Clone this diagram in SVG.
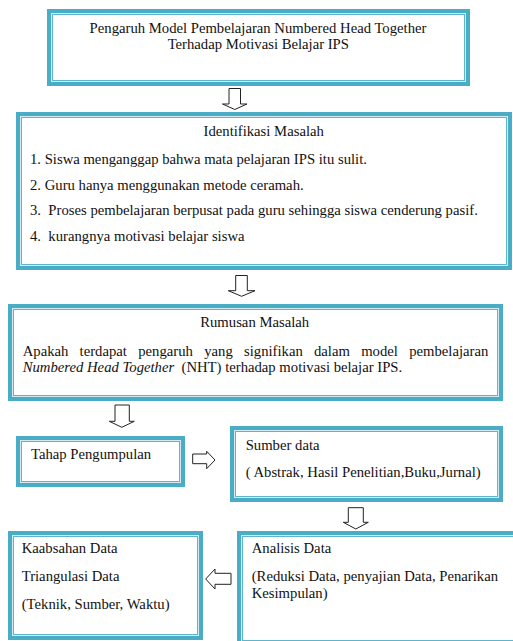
<svg xmlns="http://www.w3.org/2000/svg" width="513" height="641" viewBox="0 0 513 641">
<style>
.o{fill:#fff;stroke:#4bacc6;stroke-width:4}
.g{fill:none;stroke:#d2ebf2;stroke-width:1}
.i{fill:none;stroke:#5db6cc;stroke-width:1}
.t{font-family:"Liberation Serif","Times New Roman",serif;font-size:14.7px;fill:#111}
.c{text-anchor:middle}
.a{fill:#fff;stroke:#222;stroke-width:1;stroke-linejoin:miter}
</style>
<rect width="513" height="641" fill="#fff"/>
<g id="node-judul">
<rect class="o" x="49" y="11" width="419" height="73"/>
<rect class="g" x="51.5" y="13.5" width="414" height="68"/>
<rect class="i" x="52.5" y="14.5" width="412" height="66"/>
<text class="t c" x="258" y="33.3">Pengaruh Model Pembelajaran Numbered Head Together</text>
<text class="t c" x="258.3" y="49.3">Terhadap Motivasi Belajar IPS</text>
</g>
<g id="node-identifikasi">
<rect class="o" x="18" y="114" width="492" height="154"/>
<rect class="g" x="20.5" y="116.5" width="487" height="149"/>
<rect class="i" x="21.5" y="117.5" width="485" height="147"/>
<text class="t c" x="263.7" y="136">Identifikasi Masalah</text>
<text class="t" x="30" y="164">1. Siswa menganggap bahwa mata pelajaran IPS itu sulit.</text>
<text class="t" x="30" y="189.5">2. Guru hanya menggunakan metode ceramah.</text>
<text class="t" x="30" y="215" xml:space="preserve">3.  Proses pembelajaran berpusat pada guru sehingga siswa cenderung pasif.</text>
<text class="t" x="30" y="240.5" xml:space="preserve">4.  kurangnya motivasi belajar siswa</text>
</g>
<g id="node-rumusan">
<rect class="o" x="10" y="306" width="491" height="93"/>
<rect class="g" x="12.5" y="308.5" width="486" height="88"/>
<rect class="i" x="13.5" y="309.5" width="484" height="86"/>
<text class="t c" x="254.7" y="327.3">Rumusan Masalah</text>
<text class="t" y="355.7"><tspan x="22.7">Apakah</tspan><tspan x="79.6">terdapat</tspan><tspan x="138.2">pengaruh</tspan><tspan x="204.2">yang</tspan><tspan x="244">signifikan</tspan><tspan x="314">dalam</tspan><tspan x="361.2">model</tspan><tspan x="409.2">pembelajaran</tspan></text>
<text class="t" y="371.7"><tspan x="22.7" font-style="italic">Numbered Head Together</tspan><tspan x="181.5">(NHT) terhadap motivasi belajar IPS.</tspan></text>
</g>
<g id="node-tahap">
<rect class="o" x="18" y="438" width="165" height="47"/>
<rect class="g" x="20.5" y="440.5" width="160" height="42"/>
<rect class="i" x="21.5" y="441.5" width="158" height="40"/>
<text class="t" x="31" y="459.3">Tahap Pengumpulan</text>
</g>
<g id="node-sumber">
<rect class="o" x="232" y="428" width="269" height="72"/>
<rect class="g" x="234.5" y="430.5" width="264" height="67"/>
<rect class="i" x="235.5" y="431.5" width="262" height="65"/>
<text class="t" x="245.7" y="450">Sumber data</text>
<text class="t" x="245.7" y="476.7">( Abstrak, Hasil Penelitian,Buku,Jurnal)</text>
</g>
<g id="node-keabsahan">
<rect class="o" x="10" y="533" width="191" height="105"/>
<rect class="g" x="12.5" y="535.5" width="186" height="100"/>
<rect class="i" x="13.5" y="536.5" width="184" height="98"/>
<text class="t" x="21.7" y="553.3">Kaabsahan Data</text>
<text class="t" x="21.7" y="581">Triangulasi Data</text>
<text class="t" x="21.7" y="609">(Teknik, Sumber, Waktu)</text>
</g>
<g id="node-analisis">
<rect class="o" x="239" y="533" width="279" height="111"/>
<rect class="g" x="241.5" y="535.5" width="274" height="106"/>
<rect class="i" x="242.5" y="536.5" width="272" height="104"/>
<text class="t" x="251.7" y="553.3">Analisis Data</text>
<text class="t" x="251.7" y="581">(Reduksi Data, penyajian Data, Penarikan</text>
<text class="t" x="251.7" y="598">Kesimpulan)</text>
</g>
<g id="connectors">
<polygon class="a" points="229,88.5 240.5,88.5 240.5,104 247,104 234.75,109.5 222.5,104 229,104"/>
<polygon class="a" points="235.7,275.5 247.3,275.5 247.3,290.7 255,290.7 241.6,296.3 228.3,290.7 235.7,290.7"/>
<polygon class="a" points="115,405 129.3,405 129.3,421.3 134.3,421.3 121.8,427.3 109.3,421.3 115,421.3"/>
<polygon class="a" points="192.7,454 206.7,454 206.7,451.3 215,460 206.7,468.7 206.7,463.7 192.7,463.7"/>
<polygon class="a" points="348.3,507.7 363.3,507.7 363.3,522.3 368.3,522.3 355.8,529 343.3,522.3 348.3,522.3"/>
<polygon class="a" points="231,573.3 215,573.3 215,569 205.7,579 215,589 215,584.3 231,584.3"/>
</g>
</svg>
